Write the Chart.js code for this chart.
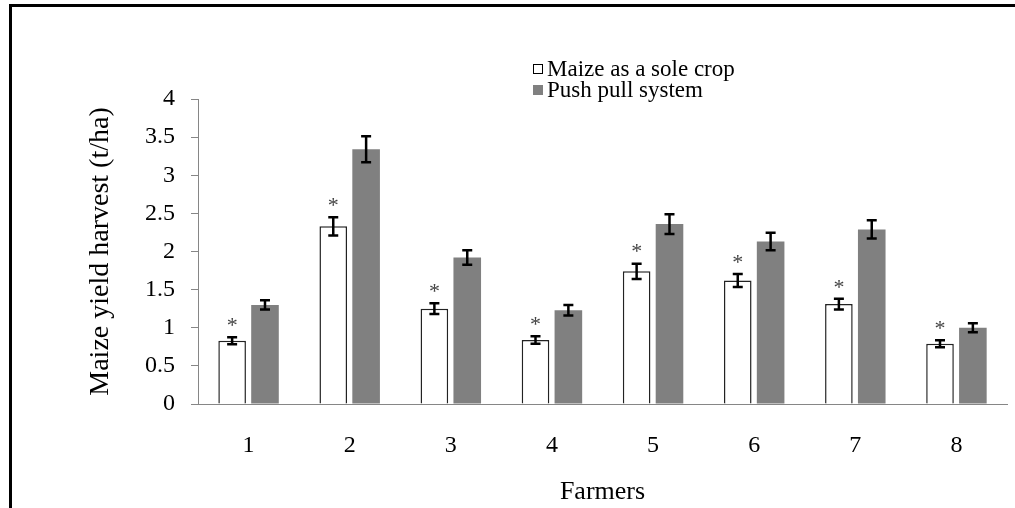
<!DOCTYPE html>
<html>
<head>
<meta charset="utf-8">
<script src="https://cdn.jsdelivr.net/npm/chart.js@4.4.1/dist/chart.umd.min.js"></script>
<style>
  html, body { margin: 0; padding: 0; background: #fff; overflow: hidden; }
  .frame { position: absolute; left: 9px; top: 4px; width: 1100px; height: 600px;
           border-top: 3px solid #000; border-left: 3px solid #000; }
  .chart-wrap { position: absolute; left: 0; top: 0; width: 1015px; height: 508px; }
</style>
</head>
<body>
<div class="frame"></div>
<div class="chart-wrap"><canvas id="chart"></canvas></div>
<script>
const farmers = ['1', '2', '3', '4', '5', '6', '7', '8'];
const soleCrop = [0.83, 2.33, 1.25, 0.84, 1.74, 1.62, 1.31, 0.79];
const soleCropErr = [0.045, 0.12, 0.07, 0.05, 0.10, 0.085, 0.07, 0.045];
const pushPull = [1.30, 3.34, 1.92, 1.23, 2.36, 2.13, 2.29, 1.00];
const pushPullErr = [0.06, 0.17, 0.095, 0.07, 0.13, 0.115, 0.12, 0.06];
const yTicks = [0, 0.5, 1, 1.5, 2, 2.5, 3, 3.5, 4];

const SERIF = '"Liberation Serif", "Times New Roman", serif';
const AXIS_GREY = '#868686';

// Error bars, plus the significance stars over the sole crop bars
const errorBars = {
  id: 'errorBars',
  afterDatasetsDraw(chart) {
    const { ctx, scales: { y } } = chart;
    const errs = [soleCropErr, pushPullErr];
    ctx.save();
    chart.data.datasets.forEach((ds, i) => {
      const meta = chart.getDatasetMeta(i);
      meta.data.forEach((bar, j) => {
        const top = y.getPixelForValue(ds.data[j] + errs[i][j]);
        const bot = y.getPixelForValue(ds.data[j] - errs[i][j]);
        ctx.strokeStyle = '#000';
        ctx.lineWidth = 2.5;
        ctx.beginPath();
        ctx.moveTo(bar.x, top);
        ctx.lineTo(bar.x, bot);
        ctx.moveTo(bar.x - 5, top);
        ctx.lineTo(bar.x + 5, top);
        ctx.moveTo(bar.x - 5, bot);
        ctx.lineTo(bar.x + 5, bot);
        ctx.stroke();

        if (i === 0) {
          ctx.fillStyle = '#444';
          ctx.font = '22px ' + SERIF;
          ctx.textAlign = 'center';
          ctx.textBaseline = 'middle';
          ctx.fillText('*', bar.x, top - 11);
        }
      });
    });
    ctx.restore();
  },
};

// Two-row legend sitting inside the plot, as in the original
const boxLegend = {
  id: 'boxLegend',
  afterDraw(chart) {
    const { ctx } = chart;
    ctx.save();
    ctx.font = '23px ' + SERIF;
    ctx.textBaseline = 'middle';
    ctx.textAlign = 'left';
    chart.data.datasets.forEach((ds, i) => {
      const cy = 69 + i * 21;
      ctx.fillStyle = ds.backgroundColor;
      ctx.fillRect(533, cy - 5, 10, 10);
      if (ds.borderWidth) {
        ctx.strokeStyle = '#000';
        ctx.lineWidth = 1;
        ctx.strokeRect(533.5, cy - 4.5, 9, 9);
      }
      ctx.fillStyle = '#000';
      ctx.fillText(ds.label, 547, cy + 1);
    });
    ctx.restore();
  },
};

new Chart(document.getElementById('chart'), {
  type: 'bar',
  data: {
    labels: farmers,
    datasets: [
      {
        label: 'Maize as a sole crop',
        data: soleCrop,
        backgroundColor: '#ffffff',
        borderColor: '#222',
        borderWidth: 1.5,
      },
      {
        label: 'Push pull system',
        data: pushPull,
        backgroundColor: '#808080',
        borderWidth: 0,
      },
    ],
  },
  options: {
    responsive: true,
    maintainAspectRatio: false,
    animation: false,
    categoryPercentage: 0.65,
    barPercentage: 0.84,
    layout: { padding: { left: 80, right: 8, top: 99, bottom: 0 } },
    plugins: {
      legend: { display: false },
      tooltip: { enabled: false },
    },
    scales: {
      x: {
        afterFit(scale) { scale.height = 104; },
        ticks: { color: '#000', font: { family: SERIF, size: 24 }, padding: 27 },
        grid: { drawOnChartArea: false, drawTicks: false },
        border: { color: AXIS_GREY, width: 1 },
        title: {
          display: true,
          text: 'Farmers',
          color: '#000',
          font: { family: SERIF, size: 26 },
          padding: 0,
        },
      },
      y: {
        min: 0,
        max: 4,
        afterFit(scale) { scale.width = 118; },
        afterBuildTicks(scale) { scale.ticks = yTicks.map(v => ({ value: v })); },
        ticks: {
          color: '#000',
          font: { family: SERIF, size: 24 },
          padding: 16,
          callback: v => String(v),
        },
        grid: { drawOnChartArea: false, drawTicks: true, tickLength: 7, color: AXIS_GREY },
        border: { color: AXIS_GREY, width: 1 },
        title: {
          display: true,
          text: 'Maize yield harvest (t/ha)',
          color: '#000',
          font: { family: SERIF, size: 28 },
          padding: 4,
        },
      },
    },
  },
  plugins: [errorBars, boxLegend],
});
</script>
</body>
</html>
